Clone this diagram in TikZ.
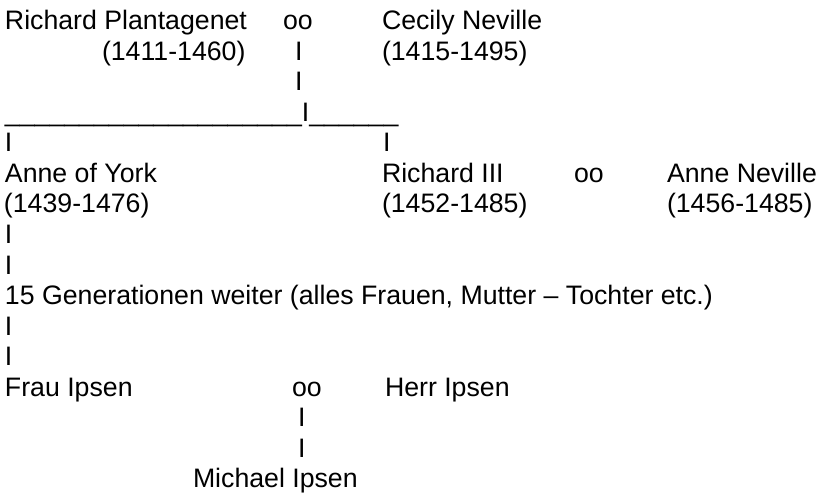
\documentclass[tikz,border=0pt]{standalone}
\usepackage{fontspec}
\setmainfont{Liberation Sans}
\begin{document}
\begin{tikzpicture}[x=1pt,y=-1pt,
  txt/.style={anchor=base west,inner sep=0pt,outer sep=0pt,text=black,
    font=\fontsize{26.7}{32}\selectfont}]
\useasboundingbox[fill=white] (0,0) rectangle (821,494);
% line 1
\node[txt] (rp)   at (5,30)    {Richard Plantagenet};
\node[txt] (oo1)  at (283,30)  {oo};
\node[txt] (cn)   at (382,30)  {Cecily Neville};
% line 2
\node[txt] (rpd)  at (102,60.5) {(1411-1460)};
\node[txt] (v1)   at (295,60.5) {I};
\node[txt] (cnd)  at (382,60.5) {(1415-1495)};
% line 3
\node[txt] (v2)   at (295,91)   {I};
% line 4
\node[txt] (bar)  at (5,121.5)  {\_\_\_\_\_\_\_\_\_\_\_\_\_\_\_\_\_\_\_\_I\_\_\_\_\_\_};
% line 5
\node[txt] (v3)   at (5,152)    {I};
\node[txt] (v4)   at (383,152)  {I};
% line 6
\node[txt] (ay)   at (5,182.5)  {Anne of York};
\node[txt] (r3)   at (382,182.5) {Richard III};
\node[txt] (oo2)  at (574,182.5) {oo};
\node[txt] (an)   at (667,182.5) {Anne Neville};
% line 7
\node[txt] (ayd)  at (4,213)    {(1439-1476)};
\node[txt] (r3d)  at (382,213)  {(1452-1485)};
\node[txt] (and)  at (667,213)  {(1456-1485)};
% lines 8-9
\node[txt] (v5)   at (5,243.5)  {I};
\node[txt] (v6)   at (5,274)    {I};
% line 10
\node[txt] (gen)  at (5,304.5)  {15 Generationen weiter (alles Frauen, Mutter – Tochter etc.)};
% lines 11-12
\node[txt] (v7)   at (5,335)    {I};
\node[txt] (v8)   at (5,365.5)  {I};
% line 13
\node[txt] (fi)   at (5,396)    {Frau Ipsen};
\node[txt] (oo3)  at (292,396)  {oo};
\node[txt] (hi)   at (385,396)  {Herr Ipsen};
% lines 14-15
\node[txt] (v9)   at (298,426.5) {I};
\node[txt] (v10)  at (298,457)   {I};
% line 16
\node[txt] (mi)   at (193,487.5) {Michael Ipsen};
\end{tikzpicture}
\end{document}
